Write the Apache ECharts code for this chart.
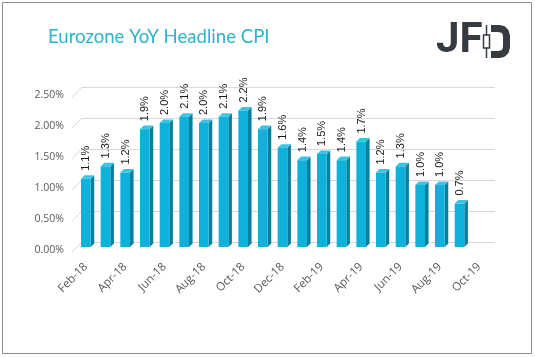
<!DOCTYPE html>
<html><head><meta charset="utf-8">
<script src="https://cdn.jsdelivr.net/npm/echarts@6/dist/echarts.min.js"></script>
<style>html,body{margin:0;padding:0;background:#fff}#c{width:535px;height:357px}</style>
</head><body><div id="c"></div>
<script>
const categories = ['Feb-18','Mar-18','Apr-18','May-18','Jun-18','Jul-18','Aug-18','Sep-18','Oct-18','Nov-18','Dec-18','Jan-19','Feb-19','Mar-19','Apr-19','May-19','Jun-19','Jul-19','Aug-19','Sep-19','Oct-19'];
const cpiValues = [1.1,1.3,1.2,1.9,2.0,2.1,2.0,2.1,2.2,1.9,1.6,1.4,1.5,1.4,1.7,1.2,1.3,1.0,1.0,0.7,null];
const yTicks = [0,0.5,1.0,1.5,2.0,2.5];

const chart = echarts.init(document.getElementById('c'), null, {renderer:'canvas'});
const barData = cpiValues.map((v,i)=> v==null ? null : [i, v]).filter(d=>d);

function renderBar(params, api){
  const i = api.value(0), v = api.value(1);
  const c = api.coord([i, v]);
  const b = api.coord([i, 0]);
  const bw = api.size([1,0])[0];
  const w = bw*0.49, d = 3.6, dx = -6, dy = 5;
  const xl = c[0]+dx-w/2, xr = c[0]+dx+w/2, top = c[1]+dy, bot = b[1]+dy;
  return {type:'group', children:[
    {type:'polygon', shape:{points:[[xr,top],[xr+d,top-d],[xr+d,bot-d],[xr,bot]]}, style:{fill:'#0a7f9c'}},
    {type:'polygon', shape:{points:[[xl,top],[xl+d,top-d],[xr+d,top-d],[xr,top]]}, style:{fill:'#3cc3e3'}},
    {type:'rect', shape:{x:xl, y:top, width:w, height:bot-top}, style:{fill:'#0db1d9'}},
    {type:'text', x:c[0]+dx+0.5, y:top-8, rotation:Math.PI/2,
      style:{text:v.toFixed(1)+'%', fill:'#1a1a1a', font:'11px "Liberation Sans", Arial, sans-serif', align:'left', verticalAlign:'middle'}}
  ]};
}
function renderSide(params, api){
  const v = api.value(0);
  const cs = params.coordSys;
  const p = api.coord([0, v]);
  const x0 = cs.x;
  return {type:'line', shape:{x1:x0, y1:p[1], x2:x0-10, y2:p[1]+10}, style:{stroke:'#d9d9d9', lineWidth:1}};
}

chart.setOption({
  animation:false,
  backgroundColor:'#fff',
  title:{text:'Eurozone YoY Headline CPI', left:43, top:22,
    textStyle:{color:'#2cb3cd', fontSize:18.6, fontWeight:'normal', fontFamily:'Lato, "Open Sans", sans-serif'}},
  graphic:[
    {type:'rect', shape:{x:2.5,y:2.5,width:529,height:351}, style:{fill:'none', stroke:'#8c8c8c', lineWidth:1}, silent:true},
    {type:'text', x:436, y:41.5, style:{text:'JF', font:'bold 42px Roboto, "Liberation Sans", sans-serif', fill:'#363b41', align:'left', verticalAlign:'middle'}},
    {type:'line', shape:{x1:486.5,y1:25,x2:486.5,y2:58}, style:{stroke:'#363b41', lineWidth:1.5}},
    {type:'rect', shape:{x:483.5,y:35,width:6,height:13}, style:{fill:'#fff', stroke:'#363b41', lineWidth:1.5}},
    {type:'polyline', shape:{points:[[491,28.5],[499,28.5],[503,29.5],[505.5,32],[506.5,36],[506.5,47],[505.5,51],[503,53.5],[499,54.5],[491,54.5]]}, style:{fill:'none', stroke:'#363b41', lineWidth:7, lineJoin:'round'}}
  ],
  grid:[
    {left:82, right:40, top:87, bottom:115},
    {left:76, right:46, top:95, bottom:107}
  ],
  xAxis:[
    {type:'category', gridIndex:0, data:categories, show:false},
    {type:'category', gridIndex:1, data:categories,
      axisLine:{show:false}, axisTick:{show:false},
      axisLabel:{interval:1, rotate:45, margin:15, color:'#595959', fontSize:11.5, fontFamily:'"Open Sans", sans-serif'}}
  ],
  yAxis:[
    {type:'value', gridIndex:0, min:0, max:2.5, interval:0.5,
      axisLine:{show:false}, axisTick:{show:false}, axisLabel:{show:false},
      splitLine:{show:true, lineStyle:{color:'#d9d9d9', width:1}}},
    {type:'value', gridIndex:1, min:0, max:2.5, interval:0.5,
      axisLine:{show:false}, axisTick:{show:false}, splitLine:{show:false},
      axisLabel:{margin:12, color:'#595959', fontSize:10.5, fontFamily:'"Open Sans", sans-serif',
        formatter:v=>v.toFixed(2)+'%'}}
  ],
  series:[
    {type:'custom', xAxisIndex:0, yAxisIndex:0, renderItem:renderSide, data:yTicks.map(t=>[t]), encode:{y:0}, silent:true},
    {type:'custom', xAxisIndex:0, yAxisIndex:0, renderItem:renderBar, data:barData, encode:{x:0,y:1}, clip:false, z:3}
  ]
});
</script></body></html>
